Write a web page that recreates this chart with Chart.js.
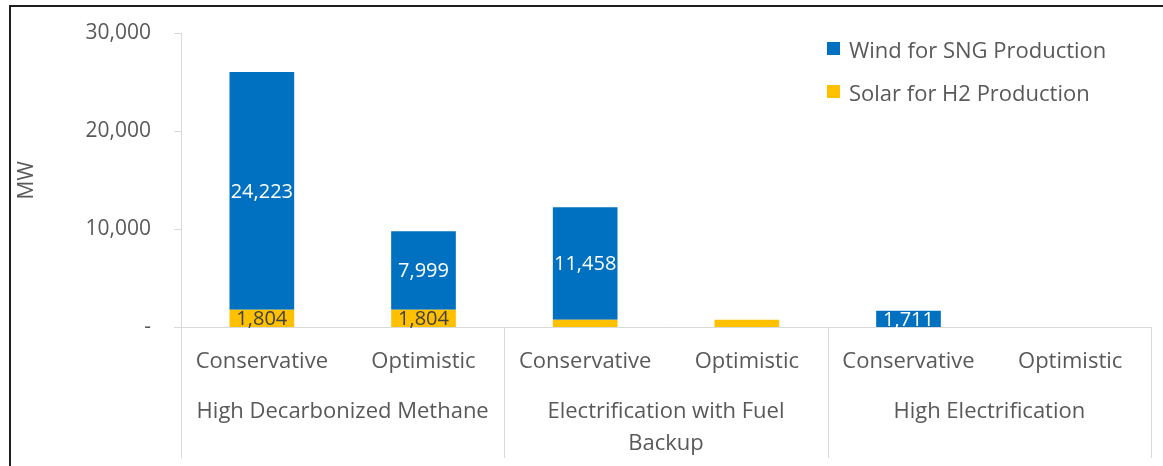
<!DOCTYPE html>
<html>
<head>
<meta charset="utf-8">
<script src="https://cdn.jsdelivr.net/npm/chart.js@4"></script>
<style>
  body { margin: 0; background: #fff; overflow: hidden; }
  #wrap { position: relative; width: 1163px; height: 466px; }
  #frame { position: absolute; left: 9px; top: 5px; width: 1300px; height: 600px;
           border-left: 2px solid #1e1e1e; border-top: 2px solid #1e1e1e; pointer-events: none; }
  #legend { position: absolute; left: 827px; top: 27px; font-family: 'Open Sans', sans-serif;
            font-size: 22px; color: #595959; }
  #legend .item { height: 43px; display: flex; align-items: center; }
  #legend .box { width: 13px; height: 13px; margin-right: 9px; }
</style>
</head>
<body>
<div id="wrap">
  <canvas id="myChart"></canvas>
  <div id="frame"></div>
  <div id="legend"></div>
</div>
<script>
const categories = ['Conservative', 'Optimistic', 'Conservative', 'Optimistic', 'Conservative', 'Optimistic'];
const groups = ['High Decarbonized Methane', ['Electrification with Fuel', 'Backup'], 'High Electrification'];
const windValues = [24223, 7999, 11458, 0, 1711, 0];
const solarValues = [1804, 1804, 790, 790, 0, 0];
const yTicks = [0, 10000, 20000, 30000];

const font = 'Open Sans';
const gray = '#595959';
const lineGray = '#d9d9d9';

const data = {
  labels: categories,
  datasets: [
    {
      label: 'Solar for H2 Production',
      data: solarValues,
      backgroundColor: '#ffc000',
      labelColor: '#404040',
    },
    {
      label: 'Wind for SNG Production',
      data: windValues,
      backgroundColor: '#0070c0',
      labelColor: '#ffffff',
    },
  ],
};

// value labels in the middle of each segment
const valueLabels = {
  id: 'valueLabels',
  afterDatasetsDraw(chart) {
    const ctx = chart.ctx;
    ctx.save();
    ctx.font = `20px '${font}'`;
    ctx.textAlign = 'center';
    ctx.textBaseline = 'middle';
    chart.data.datasets.forEach((ds, di) => {
      const meta = chart.getDatasetMeta(di);
      meta.data.forEach((bar, i) => {
        const v = ds.data[i];
        if (v < 1000) return;
        const { x, y, base } = bar.getProps(['x', 'y', 'base'], true);
        ctx.fillStyle = ds.labelColor;
        ctx.fillText(v.toLocaleString('en-US'), x, (y + base) / 2 + 1);
      });
    });
    ctx.restore();
  }
};

// vertical divider lines between the category groups
const groupLines = {
  id: 'groupLines',
  afterDraw(chart) {
    const x = chart.scales.x;
    const ctx = chart.ctx;
    const edges = [x.left, (x.getPixelForValue(1) + x.getPixelForValue(2)) / 2,
      (x.getPixelForValue(3) + x.getPixelForValue(4)) / 2, x.right];
    ctx.save();
    ctx.strokeStyle = lineGray;
    ctx.lineWidth = 1;
    edges.forEach(px => {
      const p = Math.round(px) + 0.5;
      ctx.beginPath();
      ctx.moveTo(p, chart.chartArea.bottom);
      ctx.lineTo(p, 458);
      ctx.stroke();
    });
    ctx.restore();
  }
};

const chart = new Chart(document.getElementById('myChart'), {
  type: 'bar',
  data: data,
  plugins: [valueLabels, groupLines],
  options: {
    responsive: true,
    maintainAspectRatio: false,
    animation: false,
    layout: { padding: { top: 33, right: 12, bottom: 0, left: 0 } },
    datasets: { bar: { categoryPercentage: 1, barPercentage: 0.4 } },
    plugins: { legend: { display: false }, tooltip: { enabled: false } },
    scales: {
      x: {
        stacked: true,
        weight: 0,
        grid: { display: false, drawTicks: false },
        border: { color: lineGray },
        ticks: { color: gray, font: { family: font, size: 22 }, padding: 21, maxRotation: 0, autoSkip: false },
        afterFit: s => { s.height = 58; s.paddingTop = 0; },
      },
      x2: {
        type: 'category',
        position: 'bottom',
        labels: groups,
        offset: true,
        weight: 1,
        grid: { display: false, drawTicks: false },
        border: { display: false },
        ticks: { color: gray, font: { family: font, size: 22, lineHeight: 1.45 }, padding: 10, maxRotation: 0, autoSkip: false },
        afterFit: s => { s.height = 80.5; s.paddingTop = 0; },
      },
      y: {
        stacked: true,
        min: 0,
        max: 30000,
        afterBuildTicks: s => { s.ticks = yTicks.map(v => ({ value: v })); },
        grid: { drawOnChartArea: false, tickLength: 7, color: lineGray },
        border: { color: lineGray },
        ticks: {
          color: gray,
          font: { family: font, size: 21 },
          padding: 23,
          callback: v => v === 0 ? '-' : v.toLocaleString('en-US'),
        },
        title: { display: true, text: 'MW', color: gray, font: { family: font, size: 21 }, padding: { top: 14, bottom: 0 } },
        afterFit: s => { s.width = 181; s.paddingTop = 0; s.paddingBottom = 0; },
      },
    },
  },
});

// html legend, same order as the reference (wind first)
const legend = document.getElementById('legend');
chart.data.datasets.slice().reverse().forEach(ds => {
  const item = document.createElement('div');
  item.className = 'item';
  const box = document.createElement('span');
  box.className = 'box';
  box.style.background = ds.backgroundColor;
  const txt = document.createElement('span');
  txt.textContent = ds.label;
  item.appendChild(box);
  item.appendChild(txt);
  legend.appendChild(item);
});
</script>
</body>
</html>
